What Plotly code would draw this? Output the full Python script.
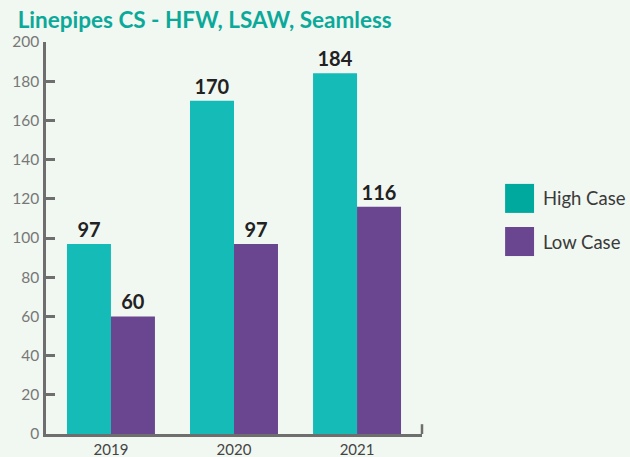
import plotly.graph_objects as go

years = ['2019', '2020', '2021']
high_case = [97, 170, 184]
low_case = [60, 97, 116]
series_names = ['High Case', 'Low Case']

bg = '#F1F7F1'
teal = '#15BBB6'
teal_legend = '#00A99D'
purple = '#6B4690'
axis_col = '#6E6E6E'

fig = go.Figure()
fig.add_trace(go.Bar(x=years, y=high_case, name=series_names[0], marker_color=teal,
                     text=high_case, textposition='outside', showlegend=False))
fig.add_trace(go.Bar(x=years, y=low_case, name=series_names[1], marker_color=purple,
                     text=low_case, textposition='outside', showlegend=False))

fig.update_traces(textfont=dict(size=20, color='#222222', family='Lato', weight=700),
                  marker_line_width=0, cliponaxis=False)

# custom legend with big squares
for i, (name, col) in enumerate(zip(series_names, [teal_legend, purple])):
    y0 = 0.564 - i * 0.11
    fig.add_shape(type='rect', xref='paper', yref='paper',
                  x0=1.221, x1=1.298, y0=y0, y1=y0 + 0.074,
                  fillcolor=col, line_width=0)
    fig.add_annotation(xref='paper', yref='paper', x=1.316, y=y0 + 0.037,
                       text=name, showarrow=False, xanchor='left', yanchor='middle',
                       font=dict(size=18.5, color='#3A3A3A', family='Lato'))

# little upturned tick at the right end of the x axis
fig.add_shape(type='line', xref='paper', yref='y', x0=1, x1=1, y0=0, y1=5,
              line=dict(color=axis_col, width=2.5))

fig.update_layout(
    width=630, height=457,
    paper_bgcolor=bg, plot_bgcolor=bg,
    barmode='group', bargap=0.285, bargroupgap=0,
    margin=dict(l=46, r=208, t=42, b=23, autoexpand=False),
    font=dict(family='Lato', color='#666666'),
    title=dict(text='<b>Linepipes CS - HFW, LSAW, Seamless</b>', x=0.028, xanchor='left',
               y=0.955, yanchor='middle',
               font=dict(size=22.5, color='#0BA99A', family='Lato')),
)
fig.update_xaxes(range=[-0.528, 2.528], showline=True, linecolor=axis_col, linewidth=2.5, ticks='',
                 tickfont=dict(size=15, color='#444444'), ticklabelstandoff=0,
                 showgrid=False, zeroline=False, automargin=False)
fig.update_yaxes(range=[0, 200], tickvals=list(range(0, 201, 20)),
                 showline=True, linecolor=axis_col, linewidth=2.5,
                 ticks='inside', ticklen=9, tickwidth=2.5, tickcolor=axis_col,
                 tickfont=dict(size=15.5, color='#777777'), ticklabelstandoff=1,
                 showgrid=False, zeroline=False, automargin=False)

fig.write_html('out.html', config={'displayModeBar': False},
               post_script="document.body.style.margin='0';document.body.style.background='%s';" % bg)
